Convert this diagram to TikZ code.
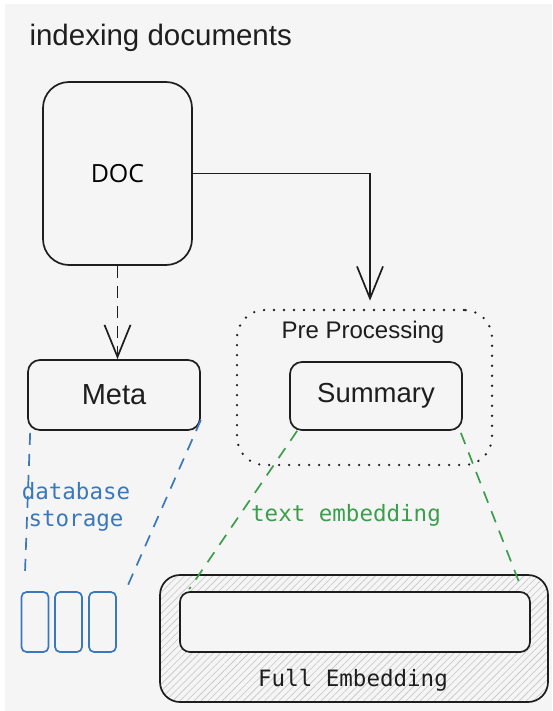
\documentclass[tikz,border=0pt]{standalone}
\usepackage{xcolor}
\usepackage{fontspec}
\usepackage{tikz}
\usetikzlibrary{arrows.meta,patterns.meta}

\setmainfont{Liberation Sans}
\newfontfamily\docfont{Open Sans}
\newfontfamily\codefont{DejaVu Sans Mono}

\definecolor{bgcol}{HTML}{F5F5F5}
\definecolor{inkcol}{HTML}{1E1E1E}
\definecolor{dbblue}{HTML}{3A78BE}
\definecolor{embgreen}{HTML}{3C9E4C}
\definecolor{hatchcol}{HTML}{C4C4C4}

\begin{document}
\begin{tikzpicture}[x=1pt,y=-1pt,
    box/.style={draw=inkcol,line width=1.7pt,rounded corners=#1,inner sep=0pt},
    box/.default=12pt,
    hand/.style={text=inkcol,font=\fontsize{#1}{#1}\selectfont},
    code/.style={font=\codefont\fontsize{22.5}{27}\selectfont},
    vee/.style={-{Straight Barb[length=32pt,width=26pt]}},
    link/.style={line width=1.7pt,dash pattern=on 12pt off 9pt}
]
    % canvas
    \useasboundingbox (0,0) rectangle (552,711);
    \fill[bgcol] (5,4) rectangle (552,711);

    \node[hand=29.5,anchor=west] (title) at (26,38) {indexing documents};

    % source document
    \node[box=26pt,minimum width=149pt,minimum height=183pt] (doc) at (117.5,173.5)
        {\docfont\fontsize{25}{25}\selectfont DOC};
    \node[box,minimum width=172pt,minimum height=70pt] (meta) at (114,395) {};
    \node[hand=29] at (meta) {Meta};

    % pre processing group
    \node[draw=inkcol,line width=2.6pt,line cap=round,dash pattern=on 0pt off 10pt,
        rounded corners=28pt,minimum width=255pt,minimum height=155pt] (pre) at (364.5,387.5) {};
    \node[hand=24] (prelabel) at (363,332) {Pre Processing};
    \node[box,minimum width=172pt,minimum height=68pt] (summary) at (376,396) {};
    \node[hand=27.5] at (summary) {Summary};

    \draw[vee,draw=inkcol,line width=1.7pt] (doc.east) -| ([xshift=5.5pt,yshift=8pt]pre.north);
    \draw[vee,draw=inkcol,line width=1.7pt,dash pattern=on 12pt off 8pt] (doc.south) -- (doc.south |- meta.north);

    % database storage
    \foreach \x [count=\i] in {35,68.5,102.5} {
        \node[draw=dbblue,line width=1.7pt,rounded corners=5pt,minimum width=27pt,
            minimum height=60pt] (store\i) at (\x,622) {};
    }
    \coordinate (dbleft) at (25,572);
    \coordinate (dbright) at (128,585);
    \draw[link,dbblue] ([xshift=3pt,yshift=-2pt]meta.south west) -- (dbleft);
    \draw[link,dbblue] ([yshift=-25pt]meta.east) -- (dbright);
    \node[code,text=dbblue,align=center] (dblabel) at (76,507) {database\\storage};

    % full embedding
    \node[box=20pt,minimum width=388pt,minimum height=127pt,
        pattern={Lines[angle=45,distance=5pt,line width=0.6pt]},pattern color=hatchcol] (full) at (354,638.5) {};
    \node[box=10pt,fill=bgcol,minimum width=350pt,minimum height=60pt] (inner) at (355,622) {};
    \node[code,text=inkcol] (fulllabel) at (353,680) {Full Embedding};

    \draw[link,embgreen] ([xshift=8pt]summary.south west) -- ([xshift=10pt,yshift=2pt]inner.north west);
    \draw[link,embgreen] ([xshift=-2pt,yshift=-2pt]summary.south east) -- ([xshift=-11pt,yshift=7pt]inner.north east);
    \node[code,text=embgreen] (emblabel) at (346,515) {text embedding};
\end{tikzpicture}
\end{document}
